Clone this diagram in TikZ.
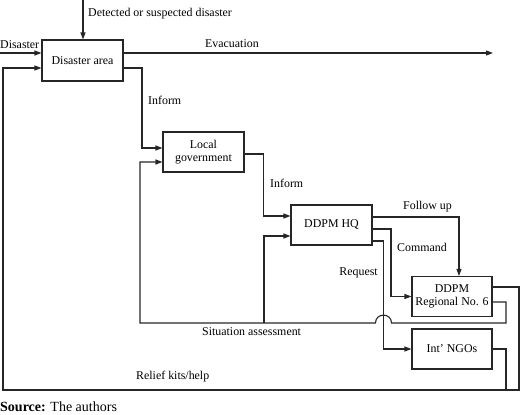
\documentclass[tikz,border=0pt]{standalone}
\usepackage{fontspec}
\setmainfont{Liberation Serif}
\usetikzlibrary{arrows.meta}
\begin{document}
\begin{tikzpicture}[x=1pt,y=-1pt,
  box/.style={draw=black!85,line width=1.1pt,rectangle,inner sep=0pt,align=center,
    minimum width=81pt,minimum height=40pt,font=\fontsize{11.9}{13.5}\selectfont},
  flow/.style={draw=black!85,line width=1.1pt},
  arr/.style={flow,-{Triangle[length=7pt,width=5pt]}},
  lbl/.style={inner sep=0pt,font=\fontsize{11.9}{13.5}\selectfont}]
\useasboundingbox (0,0) rectangle (520,415);
% boxes
\node[box,minimum height=41pt] (da) at (82.5,60.5) {Disaster area};
\node[box] (lg) at (203.5,152) {Local\\government};
\node[box] (hq) at (331.5,225) {DDPM HQ};
\node[box,minimum width=80pt] (reg) at (452,296.5) {DDPM\\Regional No. 6};
\node[box,minimum width=80pt] (ngo) at (452,349) {Int’ NGOs};
% coordinates for free ends
\coordinate (top) at (83,0);
\coordinate (left) at (0,53);
\coordinate (evac) at (493,53);
% inputs to disaster area
\draw[arr] (top) -- (da.north -| top);
\draw[arr] (left) -- ([yshift=7.5pt]da.west);
\draw[arr] ([yshift=7.5pt]da.east) -- (evac);
% inform chain
\draw[arr] ([yshift=-7.5pt]da.east) -| (142,148) -- ([yshift=4pt]lg.west);
\draw[arr] ([yshift=-2pt]lg.east) -| (263.5,216) -- ([yshift=9pt]hq.west);
% HQ outputs
\draw[arr] ([yshift=8pt]hq.east) -| (reg.north -| 459,0);
\draw[arr] ([yshift=-4pt]hq.east) -| (391,296.5) -- (reg.west);
\draw[arr] ([yshift=-16pt]hq.east) -| (383.5,349) -- (ngo.west);
% situation assessment loop
\draw[arr] ([yshift=-5.5pt]reg.east) -| (506,323) -- (391.5,323)
   .. controls (391.5,312.5) and (375.5,312.5) .. (375.5,323)
   -- (140,323) |- ([yshift=-10pt]lg.west);
\draw[arr] (264,323) |- ([yshift=-11pt]hq.west);
% relief loop
\draw[arr] ([yshift=9.5pt]reg.east) -| (519,390) -| (3,68) -- ([yshift=-7.5pt]da.west);
\draw[flow] (ngo.east) -| (506,390);
% labels
\node[lbl,anchor=west] (l1) at (88,14) {Detected or suspected disaster};
\node[lbl,anchor=west] (l2) at (0,45) {Disaster};
\node[lbl,anchor=west] (l3) at (205,44) {Evacuation};
\node[lbl,anchor=west] (l4) at (148,100) {Inform};
\node[lbl,anchor=west] (l5) at (270,183) {Inform};
\node[lbl,anchor=west] (l6) at (403,207) {Follow up};
\node[lbl,anchor=west] (l7) at (397,247) {Command};
\node[lbl,anchor=east] (l8) at (378,273) {Request};
\node[lbl,anchor=west] (l9) at (202,332) {Situation assessment};
\node[lbl,anchor=west] (l10) at (136,377) {Relief kits/help};
\node[inner sep=0pt,anchor=west,font=\fontsize{14}{16}\selectfont] (src) at (0,406.5) {\textbf{Source:} The authors};
\end{tikzpicture}
\end{document}
